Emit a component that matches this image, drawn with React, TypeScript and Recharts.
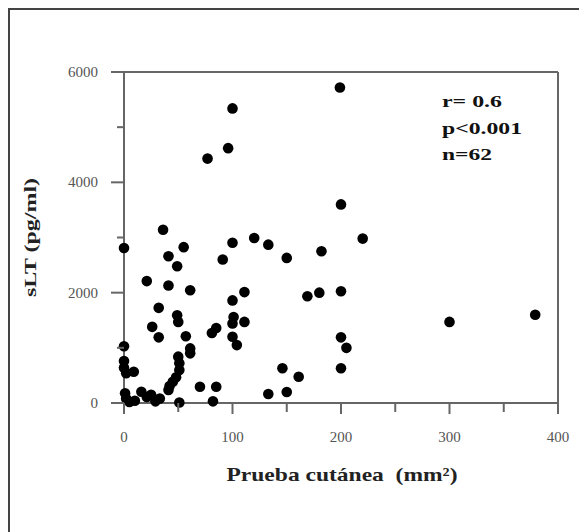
import React from 'react';
import { ScatterChart, Scatter, XAxis, YAxis, ReferenceLine } from 'recharts';

// skin test area (mm²) vs sLT (pg/ml)
const SKIN_TEST = [
  0, 0, 0, 0, 2, 9,
  1, 2, 5, 10, 16, 21, 25, 29, 33,
  21, 26, 32, 32, 36,
  41, 41, 41, 42, 45, 48, 51, 51, 50,
  49, 49, 50, 51,
  55, 57, 61, 61, 61,
  70, 77, 81, 85, 85, 82,
  91, 96, 100, 100, 100, 101, 100, 100, 104,
  111, 111, 120, 133, 133,
  146, 150, 150, 161, 169, 180, 182,
  199, 200, 200, 200, 205, 200, 220,
  300, 379,
];
const SLT = [
  2810, 1030, 760, 640, 540, 566,
  175, 80, 20, 40, 205, 110, 150, 30, 80,
  2210, 1380, 1725, 1190, 3140,
  2660, 2130, 235, 307, 385, 465, 597, 720, 840,
  2480, 1590, 1470, 10,
  2825, 1210, 2045, 990, 900,
  295, 4430, 1270, 1360, 295, 30,
  2600, 4620, 5340, 2905, 1860, 1560, 1440, 1200, 1050,
  2010, 1470, 2990, 2870, 163,
  630, 2630, 200, 475, 1935, 2000, 2750,
  5720, 3600, 2025, 1190, 1000, 630, 2980,
  1470, 1600,
];
const X_TICKS = [0, 50, 100, 150, 200, 250, 300, 350, 400];
const Y_TICKS = [0, 1000, 2000, 3000, 4000, 5000, 6000];
const STATS = ['r= 0.6', 'p<0.001', 'n=62'];
const STAT_WIDTHS = [60, 80, 50];

const data = SKIN_TEST.map((x, i) => ({ x, y: SLT[i] }));

const PLOT_LEFT = 114;
const PLOT_BOTTOM = 393;
const AXIS = '#666';
const serif = 'Liberation Serif, serif';

function XTick(props: any) {
  const { x, payload } = props;
  const major = payload.value % 100 === 0;
  return (
    <g>
      <line x1={x} x2={x} y1={PLOT_BOTTOM} y2={PLOT_BOTTOM + (major ? 11 : 9)} stroke={AXIS} strokeWidth={2} />
      {major && (
        <text x={x} y={PLOT_BOTTOM + 39} textAnchor="middle" fontFamily={serif} fontSize={15} fill="#555">
          {payload.value}
        </text>
      )}
    </g>
  );
}

function YTick(props: any) {
  const { y, payload } = props;
  const major = payload.value % 2000 === 0;
  return (
    <g>
      <line x1={PLOT_LEFT - (major ? 13 : 7)} x2={PLOT_LEFT} y1={y} y2={y} stroke={AXIS} strokeWidth={2} />
      {major && (
        <text x={88} y={y + 5} textAnchor="end" fontFamily={serif} fontSize={15} fill="#555">
          {payload.value}
        </text>
      )}
    </g>
  );
}

const Dot = (props: any) => <circle cx={props.cx} cy={props.cy} r={5.3} fill="#000" />;

export default function App() {
  return (
    <div
      style={{
        position: 'relative',
        width: 579,
        height: 524,
        borderLeft: '2px solid #444',
        borderTop: '2px solid #444',
        boxSizing: 'border-box',
        background: '#fff',
      }}
    >
      <div style={{ position: 'absolute', left: 0, top: 0 }}>
        <ScatterChart width={565} height={510} margin={{ top: 62, right: 17, left: 14, bottom: 57 }}>
          <XAxis
            type="number"
            dataKey="x"
            domain={[0, 400]}
            ticks={X_TICKS}
            interval={0}
            tickLine={false}
            tick={<XTick />}
            axisLine={{ stroke: AXIS, strokeWidth: 2 }}
            height={60}
          />
          <YAxis
            type="number"
            dataKey="y"
            domain={[0, 6000]}
            ticks={Y_TICKS}
            interval={0}
            tickLine={false}
            tick={<YTick />}
            axisLine={{ stroke: AXIS, strokeWidth: 2 }}
            width={100}
          />
          <ReferenceLine y={6000} stroke={AXIS} strokeWidth={2} />
          <ReferenceLine x={400} stroke={AXIS} strokeWidth={2} />
          <Scatter data={data} shape={<Dot />} isAnimationActive={false} />
        </ScatterChart>
      </div>
      <svg
        width={565}
        height={510}
        style={{ position: 'absolute', left: 0, top: 0, pointerEvents: 'none' }}
      >
        {STATS.map((s, i) => (
          <text
            key={s}
            x={432}
            y={97 + i * 26.5}
            fontFamily={serif}
            fontWeight="bold"
            fontSize={17}
            textLength={STAT_WIDTHS[i]}
            lengthAdjust="spacingAndGlyphs"
            fill="#111"
          >
            {s}
          </text>
        ))}
        <text
          x={332}
          y={471}
          textAnchor="middle"
          fontFamily={serif}
          fontWeight="bold"
          fontSize={19}
          textLength={231}
          lengthAdjust="spacingAndGlyphs"
          fill="#222"
        >
          {'Prueba cutánea\u00a0\u00a0(mm²)'}
        </text>
        <text
          x={26}
          y={227.5}
          transform="rotate(-90 26 227.5)"
          textAnchor="middle"
          fontFamily={serif}
          fontWeight="bold"
          fontSize={17}
          textLength={119}
          lengthAdjust="spacingAndGlyphs"
          fill="#222"
        >
          sLT (pg/ml)
        </text>
      </svg>
    </div>
  );
}
